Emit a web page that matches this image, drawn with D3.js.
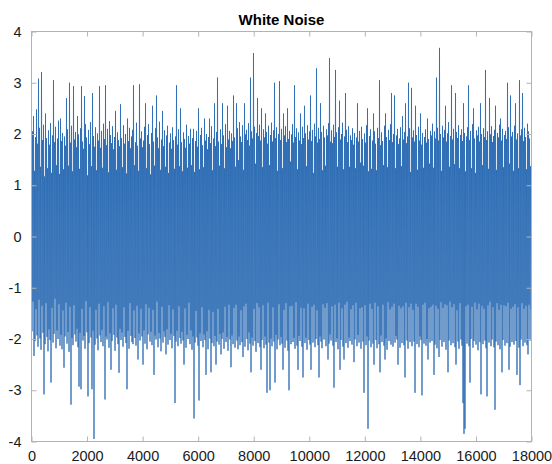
<!DOCTYPE html>
<meta charset="utf-8">
<title>White Noise</title>
<script src="https://cdn.jsdelivr.net/npm/d3@7"></script>
<style>
body { margin: 0; background: #fff; }
svg { display: block; }
.tick text { font-family: "Liberation Sans", Arial, Helvetica, sans-serif; font-size: 14.5px; fill: #1a1a1a; }
.title { font-family: "Liberation Sans", Arial, Helvetica, sans-serif; font-size: 15px; font-weight: bold; fill: #000; }
</style>
<svg width="552" height="464"></svg>
<script>

var titleText = "White Noise";
var xTicks = [0, 2000, 4000, 6000, 8000, 10000, 12000, 14000, 16000, 18000];
var yTicks = [-4, -3, -2, -1, 0, 1, 2, 3, 4];
var sampleCount = 18000;

// peak and trough of the signal in each pixel column (36 samples wide)
var columnHigh = [
  1.72, 2.05, 2.35, 1.28, 1.94, 2.48, 1.81, 3.08, 2.12, 1.36,
  3.21, 1.88, 2.18, 1.17, 2.40, 1.92, 1.33, 2.07, 1.79, 2.21,
  1.24, 1.97, 3.05, 1.84, 2.14, 1.39, 1.91, 2.26, 1.22, 2.30,
  1.86, 2.02, 1.31, 1.95, 1.77, 2.70, 2.09, 1.38, 3.00, 1.83,
  2.16, 1.27, 2.93, 1.89, 2.04, 1.74, 2.35, 1.99, 1.32, 2.11,
  2.93, 1.85, 1.71, 2.74, 2.19, 1.93, 1.19, 2.08, 1.80, 2.23,
  1.37, 2.80, 1.96, 1.75, 2.13, 1.29, 2.01, 1.87, 2.93, 1.73,
  2.06, 1.34, 2.20, 1.90, 2.95, 1.78, 2.10, 1.25, 2.25, 1.98,
  1.82, 2.15, 1.70, 1.94, 2.45, 1.30, 2.03, 1.88, 1.76, 2.58,
  1.92, 1.35, 2.17, 1.81, 2.00, 1.23, 2.30, 1.86, 2.12, 1.72,
  1.95, 2.08, 2.95, 1.39, 1.84, 2.22, 1.77, 1.28, 2.97, 1.91,
  2.05, 1.74, 1.87, 2.14, 2.60, 1.33, 1.98, 2.19, 1.80, 1.21,
  2.02, 2.55, 1.85, 1.38, 2.11, 2.75, 1.93, 1.72, 2.24, 1.30,
  1.89, 2.45, 1.76, 2.07, 1.36, 1.97, 2.16, 1.24, 1.83, 2.01,
  1.71, 2.13, 1.88, 1.32, 1.95, 2.95, 1.79, 2.09, 1.37, 2.50,
  1.84, 1.27, 2.03, 1.90, 1.73, 2.18, 1.34, 1.96, 1.81, 2.10,
  1.39, 1.92, 2.10, 1.26, 1.86, 2.06, 1.75, 2.50, 1.31, 1.98,
  2.12, 1.78, 1.35, 2.30, 1.87, 2.00, 1.70, 1.94, 2.30, 1.82,
  2.15, 1.29, 1.91, 2.60, 1.76, 2.04, 3.10, 1.85, 1.38, 2.09,
  1.80, 2.60, 1.97, 1.33, 2.19, 1.74, 2.55, 1.89, 2.06, 1.72,
  2.01, 1.86, 2.75, 1.93, 1.36, 2.60, 2.11, 1.49, 2.23, 1.95,
  1.84, 2.17, 1.30, 2.60, 1.99, 2.08, 1.88, 2.21, 1.77, 3.10,
  2.05, 1.91, 3.58, 2.14, 1.42, 2.02, 2.70, 1.96, 2.18, 1.87,
  2.50, 1.35, 2.09, 1.93, 2.40, 2.04, 1.81, 2.16, 1.39, 1.98,
  2.22, 1.85, 2.07, 3.00, 1.92, 2.13, 1.28, 2.00, 3.03, 1.88,
  2.10, 1.33, 2.40, 1.97, 2.15, 1.84, 2.50, 1.90, 2.06, 1.46,
  1.99, 2.19, 1.83, 2.95, 1.94, 2.11, 1.31, 2.03, 1.87, 2.40,
  1.80, 2.14, 1.92, 2.55, 2.01, 1.37, 2.17, 1.89, 2.05, 2.75,
  1.86, 2.08, 1.24, 2.20, 1.95, 3.28, 1.83, 2.12, 1.90, 2.60,
  2.04, 1.29, 2.16, 1.93, 1.38, 2.09, 1.97, 2.21, 3.48, 1.85,
  2.07, 1.82, 2.18, 1.94, 3.25, 2.03, 1.36, 2.13, 2.65, 1.89,
  2.00, 2.22, 1.31, 1.95, 2.80, 2.08, 1.84, 2.15, 1.36, 1.97,
  1.88, 2.11, 1.79, 2.02, 1.33, 1.93, 2.60, 1.85, 2.06, 1.44,
  2.14, 1.90, 1.38, 2.01, 1.83, 2.17, 2.50, 1.27, 1.96, 2.09,
  1.32, 1.87, 2.40, 2.05, 1.81, 1.29, 2.12, 1.92, 3.05, 1.78,
  2.03, 1.86, 1.39, 2.16, 2.40, 1.94, 1.35, 2.08, 1.88, 2.19,
  2.80, 1.84, 2.00, 2.75, 1.33, 1.97, 2.10, 1.80, 1.91, 2.13,
  1.37, 2.35, 1.89, 2.04, 2.60, 1.82, 1.95, 3.00, 2.11, 1.26,
  2.90, 1.93, 2.07, 1.85, 2.55, 1.98, 1.30, 2.14, 1.87, 2.40,
  1.79, 2.02, 1.34, 1.94, 2.09, 1.83, 2.30, 1.90, 1.42, 2.06,
  1.97, 2.20, 1.34, 2.05, 1.91, 3.10, 2.12, 1.87, 3.68, 2.00,
  1.28, 2.16, 1.93, 2.08, 2.55, 1.85, 2.01, 2.23, 1.36, 1.96,
  2.95, 1.89, 2.10, 1.41, 2.80, 2.04, 1.92, 2.17, 1.33, 1.98,
  2.09, 1.86, 2.60, 2.02, 1.27, 1.95, 2.13, 2.95, 1.88, 2.06,
  1.33, 2.19, 2.50, 1.91, 1.24, 2.07, 1.97, 2.14, 1.85, 2.60,
  2.00, 1.39, 2.11, 1.94, 3.25, 1.88, 2.05, 1.32, 2.70, 1.99,
  2.15, 1.84, 1.96, 2.08, 2.55, 1.30, 2.02, 1.93, 2.18, 2.30,
  1.87, 2.10, 1.35, 1.98, 2.06, 1.90, 3.00, 2.13, 1.42, 2.75,
  1.95, 2.04, 1.28, 2.16, 2.60, 1.89, 2.01, 1.33, 3.05, 1.97,
  2.09, 2.80, 1.86, 2.12, 1.94, 1.31, 2.20, 2.05, 1.91, 1.37
];

var columnLow = [
  -1.85, -1.27, -2.33, -2.04, -1.42, -1.93, -2.15, -1.23, -1.99, -2.21,
  -1.35, -1.88, -3.08, -2.10, -1.30, -1.96, -2.24, -1.81, -2.02, -2.85,
  -1.39, -2.07, -1.90, -1.21, -2.18, -1.83, -2.00, -1.32, -2.13, -1.92,
  -2.20, -1.44, -2.56, -1.95, -1.29, -2.09, -1.86, -2.25, -1.37, -3.28,
  -1.98, -2.12, -1.34, -1.91, -2.05, -1.80, -2.16, -2.93, -1.88, -2.98,
  -1.41, -2.03, -1.94, -2.19, -1.26, -1.87, -3.12, -2.08, -1.38, -1.97,
  -2.98, -1.84, -3.95, -2.11, -1.43, -1.99, -2.22, -1.31, -1.93, -2.06,
  -1.82, -2.14, -1.36, -3.18, -1.95, -2.01, -1.28, -2.17, -1.89, -2.60,
  -2.04, -1.40, -1.92, -2.23, -1.33, -1.97, -2.10, -2.66, -1.80, -2.02,
  -1.87, -2.15, -1.38, -1.96, -2.08, -2.98, -1.84, -2.19, -1.30, -1.94,
  -2.06, -2.10, -1.44, -1.98, -2.13, -1.35, -2.40, -1.89, -2.03, -1.41,
  -1.95, -2.50, -1.83, -2.09, -1.32, -2.20, -1.91, -1.39, -2.05, -1.86,
  -2.12, -1.43, -2.70, -1.93, -2.01, -1.27, -2.16, -1.88, -1.99, -2.24,
  -1.37, -2.07, -1.85, -1.96, -2.30, -1.81, -2.11, -1.34, -2.02, -1.90,
  -2.18, -1.42, -1.94, -3.25, -2.05, -1.84, -2.14, -1.36, -1.98, -2.09,
  -1.86, -2.03, -2.50, -1.40, -2.17, -1.92, -2.00, -1.29, -2.10, -1.83,
  -2.21, -1.95, -3.55, -2.07, -1.45, -1.97, -2.13, -3.20, -1.89, -2.04,
  -1.38, -2.16, -1.91, -2.02, -2.70, -1.85, -2.20, -1.43, -1.99, -2.65,
  -2.08, -1.47, -2.14, -1.94, -2.50, -2.05, -1.41, -2.11, -1.90, -2.30,
  -2.00, -1.87, -2.19, -1.37, -2.06, -1.96, -2.23, -1.33, -2.01, -2.55,
  -1.93, -2.10, -1.39, -2.17, -1.33, -2.03, -2.20, -1.95, -2.12, -1.44,
  -2.06, -2.35, -1.36, -2.15, -1.31, -2.00, -2.22, -1.87, -2.09, -2.65,
  -1.97, -2.13, -1.41, -2.04, -2.25, -1.30, -2.08, -1.38, -2.16, -2.60,
  -2.02, -1.34, -2.18, -1.95, -2.11, -3.05, -1.29, -2.07, -3.00, -1.99,
  -2.14, -1.38, -2.05, -2.85, -1.92, -2.20, -2.01, -1.32, -2.12, -1.96,
  -2.09, -2.60, -1.43, -2.17, -1.30, -2.03, -2.23, -3.00, -1.36, -2.10,
  -1.35, -2.06, -1.98, -2.19, -1.28, -2.13, -2.60, -1.94, -2.04, -1.39,
  -2.15, -2.75, -1.40, -2.08, -1.97, -2.21, -1.31, -2.02, -2.11, -2.60,
  -1.37, -2.07, -1.33, -2.16, -2.00, -1.44, -2.12, -2.75, -1.95, -2.05,
  -2.18, -1.32, -2.01, -1.39, -2.14, -1.30, -2.40, -2.09, -1.91, -2.03,
  -1.36, -2.13, -2.95, -1.33, -2.06, -1.99, -2.20, -1.29, -2.60, -2.02,
  -1.40, -2.15, -2.40, -1.33, -2.08, -1.27, -2.17, -1.97, -2.04, -1.42,
  -2.11, -1.34, -2.45, -2.01, -1.29, -2.14, -1.92, -2.07, -1.40, -2.19,
  -1.38, -2.05, -3.05, -1.34, -2.12, -1.95, -3.75, -2.03, -1.31, -2.16,
  -1.41, -2.09, -2.50, -1.29, -2.02, -2.18, -1.36, -2.10, -2.65, -1.93,
  -2.06, -1.33, -2.13, -2.40, -1.99, -2.21, -1.28, -2.04, -1.42, -2.11,
  -1.37, -2.15, -1.31, -2.07, -1.94, -2.01, -2.50, -1.35, -2.17, -1.40,
  -2.08, -1.36, -2.12, -2.75, -1.29, -2.03, -2.19, -1.38, -2.06, -1.31,
  -2.14, -1.43, -2.05, -3.05, -1.31, -2.10, -1.37, -2.16, -1.95, -2.02,
  -3.10, -1.33, -2.09, -1.29, -2.13, -2.00, -2.40, -1.40, -2.07, -1.37,
  -2.04, -1.33, -2.70, -2.11, -1.35, -2.18, -1.41, -2.35, -2.02, -1.28,
  -2.15, -1.39, -2.06, -1.32, -2.21, -1.34, -2.65, -2.03, -1.27, -2.12,
  -1.38, -2.08, -1.32, -2.16, -2.50, -1.44, -2.05, -2.19, -1.30, -2.01,
  -2.13, -3.25, -3.85, -3.75, -1.36, -2.09, -1.33, -2.14, -2.85, -2.00,
  -1.37, -2.17, -2.04, -1.29, -2.11, -1.42, -2.22, -1.31, -2.06, -3.08,
  -1.35, -2.10, -1.41, -2.03, -2.18, -3.12, -1.34, -2.07, -1.27, -2.14,
  -2.01, -1.38, -2.16, -3.38, -2.05, -1.30, -2.12, -1.43, -2.20, -1.33,
  -2.65, -2.02, -1.34, -2.13, -1.36, -2.08, -1.29, -2.60, -2.15, -1.41,
  -2.06, -1.37, -2.11, -1.32, -2.04, -2.70, -1.38, -2.17, -2.90, -2.01,
  -1.30, -2.14, -1.41, -2.07, -1.35, -2.12, -2.30, -1.33, -2.03, -1.42
];

var samplesPerColumn = sampleCount / columnHigh.length;

// trace zig-zags between each column's peak and trough
var points = [];
columnHigh.forEach(function(h, i) {
  points.push([i * samplesPerColumn, h]);
  points.push([i * samplesPerColumn + samplesPerColumn / 2, columnLow[i]]);
});

var svg = d3.select("svg"),
    margin = {top: 31.5, right: 20.5, bottom: 22.5, left: 31.5},
    width = +svg.attr("width") - margin.left - margin.right,
    height = +svg.attr("height") - margin.top - margin.bottom;

var x = d3.scaleLinear().domain([0, sampleCount]).range([0, width]),
    y = d3.scaleLinear().domain([-4, 4]).range([height, 0]);

var g = svg.append("g")
    .attr("transform", "translate(" + margin.left + "," + margin.top + ")");

g.append("clipPath").attr("id", "plot")
  .append("rect").attr("width", width).attr("height", height);

var line = d3.line()
    .x(function(d) { return x(d[0]); })
    .y(function(d) { return y(d[1]); });

g.append("path")
    .datum(points)
    .attr("clip-path", "url(#plot)")
    .attr("fill", "none")
    .attr("stroke", "#2c6bb3")
    .attr("stroke-width", 0.85)
    .attr("d", line);

function styleAxis(sel) {
  sel.select(".domain").remove();
  sel.selectAll(".tick line").attr("stroke", "#b3b3b3");
  sel.selectAll(".tick text").attr("font-family", null).attr("font-size", null);
}

g.append("g")
    .attr("transform", "translate(0," + height + ")")
    .call(d3.axisBottom(x).tickValues(xTicks).tickFormat(d3.format("d")).tickSizeInner(-5).tickPadding(9))
    .call(styleAxis);

g.append("g")
    .call(d3.axisTop(x).tickValues(xTicks).tickFormat("").tickSizeInner(-5))
    .call(styleAxis);

g.append("g")
    .call(d3.axisLeft(y).tickValues(yTicks).tickFormat(function(d) { return d < 0 ? "-" + Math.abs(d) : d; })
      .tickSizeInner(-5).tickPadding(10))
    .call(styleAxis);

g.append("g")
    .attr("transform", "translate(" + width + ",0)")
    .call(d3.axisRight(y).tickValues(yTicks).tickFormat("").tickSizeInner(-5))
    .call(styleAxis);

g.append("rect")
    .attr("width", width)
    .attr("height", height)
    .attr("fill", "none")
    .attr("stroke", "#b3b3b3")
    .attr("stroke-width", 1);

svg.append("text")
    .attr("class", "title")
    .attr("x", margin.left + width / 2)
    .attr("y", 25)
    .attr("text-anchor", "middle")
    .text(titleText);

</script>
